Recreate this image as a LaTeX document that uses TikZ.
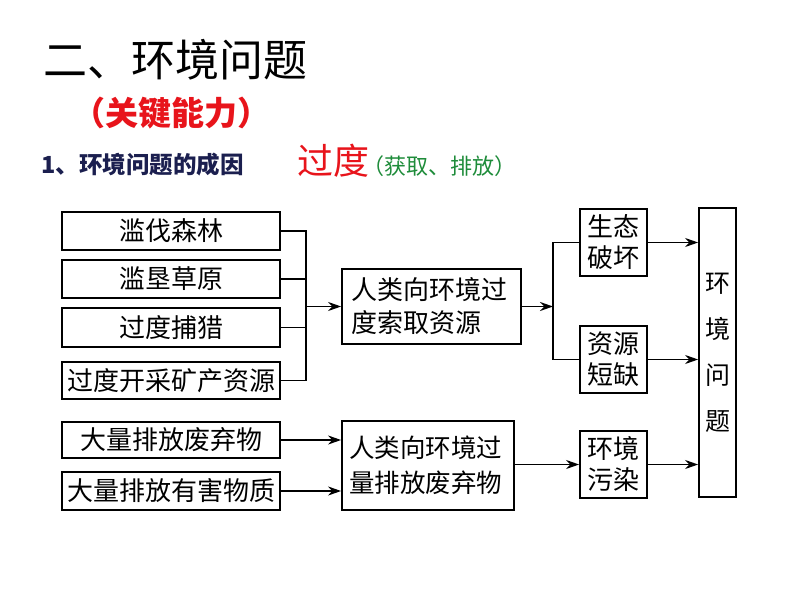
\documentclass[tikz,border=0pt]{standalone}
\usepackage{fontspec}
\setmainfont{Noto Sans CJK SC}
\usetikzlibrary{arrows.meta}
\definecolor{navy}{HTML}{1B1F4F}
\definecolor{grn}{HTML}{1E8C3A}
\definecolor{rd}{HTML}{E8141B}
\tikzset{
  box/.style={draw, line width=1.8pt, inner sep=0pt, align=center, font=\fontsize{26}{31}\selectfont},
  lbox/.style={draw, line width=1.8pt, inner sep=0pt, align=left, font=\fontsize{26}{33}\selectfont},
  con/.style={line width=1.8pt},
  arr/.style={line width=1.8pt, -{Stealth[length=13pt,width=9pt]}},
}
\begin{document}
\begin{tikzpicture}[x=1pt,y=-1pt]
\useasboundingbox[fill=white] (0,0) rectangle (794,596);
% titles
\node[font=\fontsize{44}{44}\selectfont] (t1) at (175,60) {二、环境问题};
\node[font=\fontsize{33}{33}\selectfont\bfseries, text=rd] (t2) at (171,113) {（关键能力）};
\node[anchor=west, font=\fontsize{23.5}{23.5}\selectfont\bfseries, text=navy, inner sep=0pt] (t3) at (41,165) {1、环境问题的成因};
\node[anchor=west, font=\fontsize{36}{36}\selectfont, text=rd, inner sep=0pt] (t4) at (297,161) {过度};
\node[anchor=west, font=\fontsize{22}{22}\selectfont, text=grn, inner sep=0pt] (t5) at (362,166) {（获取、排放）};
% left boxes
\node[box, minimum width=218pt, minimum height=38pt] (b1) at (171,231) {滥伐森林};
\node[box, minimum width=218pt, minimum height=38pt] (b2) at (171,279) {滥垦草原};
\node[box, minimum width=218pt, minimum height=39pt] (b3) at (171,327.5) {过度捕猎};
\node[box, minimum width=218pt, minimum height=37pt] (b4) at (171,380.5) {过度开采矿产资源};
\node[box, minimum width=218pt, minimum height=36pt] (b5) at (171,440) {大量排放废弃物};
\node[box, minimum width=218pt, minimum height=38pt] (b6) at (171,491) {大量排放有害物质};
% middle boxes
\node[lbox, minimum width=179pt, minimum height=75pt, text width=160pt] (b7) at (431.5,306.5) {人类向环境过\\度索取资源};
\node[lbox, minimum width=172pt, minimum height=89pt, text width=158pt, font=\fontsize{25.5}{35}\selectfont] (b12) at (428,465.5) {人类向环境过\\量排放废弃物};
% result boxes
\node[box, minimum width=67pt, minimum height=67pt] (b8) at (613.5,242.5) {生态\\破坏};
\node[box, minimum width=67pt, minimum height=67pt] (b9) at (613.5,359.5) {资源\\短缺};
\node[box, minimum width=67pt, minimum height=67pt] (b11) at (613.5,464.5) {环境\\污染};
\node[draw, line width=1.8pt, inner sep=0pt, minimum width=37pt, minimum height=289pt, align=center, font=\fontsize{25}{46}\selectfont] (b10) at (717.5,352.5) {环\\境\\问\\题};
% connectors
\coordinate (J) at (306,306.5);
\coordinate (K) at (553,306.5);
\draw[con] (b1.east) -- (b1.east -| J) -- (b4.east -| J) -- (b4.east);
\draw[con] (b2.east) -- (b2.east -| J);
\draw[con] (b3.east) -- (b3.east -| J);
\draw[arr] (J) -- (b7.west);
\draw[arr] (b7.east) -- (K);
\draw[con] (b8.west) -- (b8.west -| K) -- (b9.west -| K) -- (b9.west);
\draw[arr] (b8.east) -- (b8.east -| b10.west);
\draw[arr] (b9.east) -- (b9.east -| b10.west);
\draw[arr] (b11.east) -- (b11.east -| b10.west);
\draw[arr] (b5.east) -- (b5.east -| b12.west);
\draw[arr] (b6.east) -- (b6.east -| b12.west);
\draw[arr] (b12.east |- b11.west) -- (b11.west);
\end{tikzpicture}
\end{document}
